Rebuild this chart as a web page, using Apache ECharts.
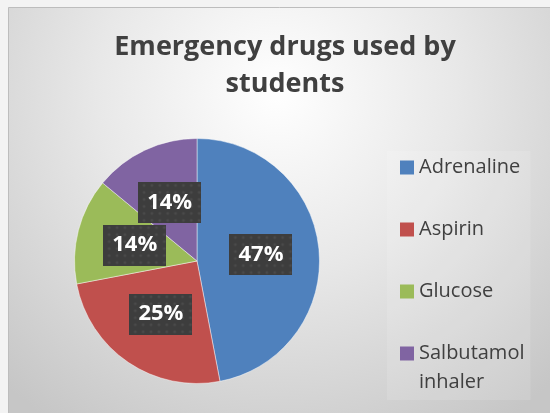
<!DOCTYPE html>
<html>
<head>
<meta charset="utf-8">
<script src="https://cdn.jsdelivr.net/npm/echarts@6/dist/echarts.min.js"></script>
<style>
  html, body { margin: 0; padding: 0; background: #f3f3f3; }
  #chart { width: 550px; height: 413px; }
</style>
</head>
<body>
<div id="chart"></div>
<script>
// Share of emergency drugs used by students
const chartTitle = 'Emergency drugs used by\nstudents';
const drugNames = ['Adrenaline', 'Aspirin', 'Glucose', 'Salbutamol inhaler'];
const drugShares = [47, 25, 14, 14];
const sliceColors = ['#4F81BD', '#C0504D', '#9BBB59', '#8064A2'];

const chart = echarts.init(document.getElementById('chart'), null, { renderer: 'canvas' });

// Dark dotted tile used behind the percentage labels
function dottedTile(w, h) {
  const c = document.createElement('canvas');
  c.width = w; c.height = h;
  const g = c.getContext('2d');
  g.fillStyle = '#3d3d3d';
  g.fillRect(0, 0, w, h);
  g.fillStyle = 'rgba(255,255,255,0.07)';
  for (let y = 3; y < h; y += 7) {
    for (let x = ((y / 7) % 2 ? 6 : 2); x < w; x += 8) {
      g.beginPath();
      g.arc(x, y, 1.6, 0, Math.PI * 2);
      g.fill();
    }
  }
  return c;
}

// Legend swatch: square at the top of a tall box so it sits on the first text line
const legendIcon = 'path://M0,0L0,0M0,7.5H14V21.5H0ZM0,58L0,58';

const pieData = drugNames.map((name, i) => ({
  name: name,
  value: drugShares[i],
  itemStyle: { color: sliceColors[i] }
}));

chart.setOption({
  backgroundColor: '#f3f3f3',
  graphic: [{
    type: 'rect',
    z: -10,
    silent: true,
    shape: { x: 8.5, y: 7.5, width: 560, height: 420 },
    style: {
      fill: {
        type: 'radial', x: 0.48, y: 0.2, r: 0.95,
        colorStops: [
          { offset: 0, color: '#ffffff' },
          { offset: 0.45, color: '#e8e8e8' },
          { offset: 1, color: '#c6c6c6' }
        ]
      },
      stroke: '#bdbdbd',
      lineWidth: 1
    }
  }],
  title: {
    text: chartTitle,
    left: 280,
    top: 24,
    textAlign: 'center',
    textStyle: {
      fontFamily: 'Open Sans',
      fontWeight: 'bold',
      fontSize: 27,
      lineHeight: 37,
      color: '#404040'
    }
  },
  legend: {
    orient: 'vertical',
    left: 387,
    top: 151,
    padding: [2, 6, 3, 13],
    itemGap: 4,
    itemWidth: 14,
    itemHeight: 58,
    icon: legendIcon,
    backgroundColor: 'rgba(255,255,255,0.12)',
    data: drugNames,
    formatter: name => name.indexOf(' ') > 0 ? name.replace(' ', '\n') : name + '\n',
    textStyle: {
      fontFamily: 'Open Sans',
      fontSize: 20,
      lineHeight: 29,
      color: '#404040'
    },
    itemStyle: { borderWidth: 0 }
  },
  series: [{
    type: 'pie',
    center: [197, 261],
    radius: [0, 122.5],
    startAngle: 90,
    clockwise: true,
    silent: true,
    animation: false,
    itemStyle: { borderColor: 'rgba(255,255,255,0.6)', borderWidth: 0.75 },
    label: {
      show: true,
      position: 'inside',
      formatter: p => p.value + '%',
      fontFamily: 'Open Sans',
      fontWeight: 'bold',
      fontSize: 22,
      lineHeight: 21,
      color: '#ffffff',
      backgroundColor: { image: dottedTile(64, 41) },
      padding: [10, 9, 10, 9],
      shadowColor: 'rgba(0,0,0,0.45)',
      shadowBlur: 5,
      shadowOffsetX: 2,
      shadowOffsetY: 2
    },
    labelLine: { show: false },
    data: pieData
  }]
});
</script>
</body>
</html>
